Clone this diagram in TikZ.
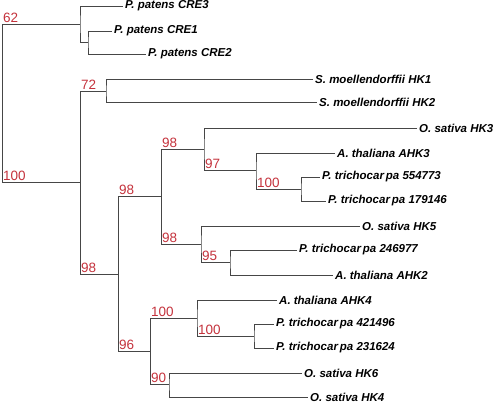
\documentclass[tikz,border=0pt]{standalone}
\usepackage{fontspec}
\setmainfont{Liberation Sans}
\definecolor{bsred}{RGB}{196,50,60}
\definecolor{branch}{RGB}{70,70,70}
\begin{document}
\begin{tikzpicture}[x=1pt,y=-1pt,
  leaf/.style={anchor=west,inner sep=2pt,font=\fontsize{11.5}{12}\selectfont\bfseries\itshape},
  bs/.style={anchor=south west,inner xsep=1pt,inner ysep=1pt,text=bsred,font=\fontsize{13.5}{14}\selectfont},
  br/.style={draw=branch,line width=0.9pt}]
\useasboundingbox (0,0) rectangle (498,404);
% internal nodes
\coordinate (r) at (2,103);
\coordinate (cre) at (80,24);
\coordinate (c12) at (88,42);
\coordinate (big) at (80,182);
\coordinate (sel) at (106,91);
\coordinate (a) at (118,274);
\coordinate (b) at (161,196);
\coordinate (c) at (204,149);
\coordinate (d) at (256,170);
\coordinate (d2) at (301,189);
\coordinate (e) at (201,244);
\coordinate (f) at (230,262);
\coordinate (g) at (150,351);
\coordinate (h) at (197,318);
\coordinate (h2) at (254,336);
\coordinate (i) at (169,384);
% leaves
\node[leaf] (cre3) at (123,6) {P. patens CRE3};
\node[leaf] (cre1) at (112,31) {P. patens CRE1};
\node[leaf] (cre2) at (146,54) {P. patens CRE2};
\node[leaf] (hk1) at (313,79) {S. moellendorffii HK1};
\node[leaf] (hk2) at (317,102) {S. moellendorffii HK2};
\node[leaf] (hk3) at (417,128) {O. sativa HK3};
\node[leaf] (ahk3) at (335,153) {A. thaliana AHK3};
\node[leaf] (p554) at (320,177) {P. trichocar\,pa 554773};
\node[leaf] (p179) at (326,201) {P. trichocar\,pa 179146};
\node[leaf] (hk5) at (360,226) {O. sativa HK5};
\node[leaf] (p246) at (297,250) {P. trichocar\,pa 246977};
\node[leaf] (ahk2) at (333,275) {A. thaliana AHK2};
\node[leaf] (ahk4) at (277,300) {A. thaliana AHK4};
\node[leaf] (p421) at (274,324) {P. trichocar\,pa 421496};
\node[leaf] (p231) at (274,348) {P. trichocar\,pa 231624};
\node[leaf] (hk6) at (302,373) {O. sativa HK6};
\node[leaf] (hk4) at (308,397) {O. sativa HK4};
% branches
\draw[br] (cre) -- (r |- cre) -- (r |- big) -- (big);
\draw[br] (cre3.west) -| (cre) |- (c12);
\draw[br] (cre1.west) -| (c12) |- (cre2.west);
\draw[br] (sel) -- (big |- sel) -- (big |- a) -- (a);
\draw[br] (hk1.west) -| (sel) |- (hk2.west);
\draw[br] (b) -- (a |- b) -- (a |- g) -- (g);
\draw[br] (c) -- (b |- c) -- (b |- e) -- (e);
\draw[br] (hk3.west) -| (c) |- (d);
\draw[br] (ahk3.west) -| (d) |- (d2);
\draw[br] (p554.west) -| (d2) |- (p179.west);
\draw[br] (hk5.west) -| (e) |- (f);
\draw[br] (p246.west) -| (f) |- (ahk2.west);
\draw[br] (h) -- (g |- h) -- (g |- i) -- (i);
\draw[br] (ahk4.west) -| (h) |- (h2);
\draw[br] (p421.west) -| (h2) |- (p231.west);
\draw[br] (hk6.west) -| (i) |- (hk4.west);
% bootstrap values
\node[bs] (s62) at (r |- cre) {62};
\node[bs] (s100a) at (r |- big) {100};
\node[bs] (s72) at (big |- sel) {72};
\node[bs] (s98a) at (big |- a) {98};
\node[bs] (s98b) at (a |- b) {98};
\node[bs] (s96) at (a |- g) {96};
\node[bs] (s98c) at (b |- c) {98};
\node[bs] (s98d) at (b |- e) {98};
\node[bs] (s97) at (c |- d) {97};
\node[bs] (s100b) at (d |- d2) {100};
\node[bs] (s95) at (e |- f) {95};
\node[bs] (s100c) at (g |- h) {100};
\node[bs] (s90) at (g |- i) {90};
\node[bs] (s100d) at (h |- h2) {100};
\end{tikzpicture}
\end{document}
